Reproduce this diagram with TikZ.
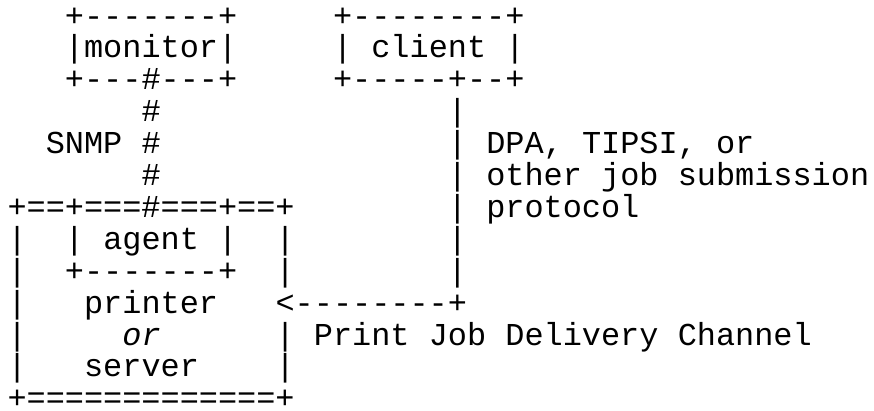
\documentclass[tikz,border=0pt]{standalone}
\usepackage{fontspec}
\setmainfont{Liberation Mono}
\newfontfamily\asciifont{Liberation Mono}
\begin{document}
\begin{tikzpicture}[
  txt/.style={anchor=base west, inner sep=0pt, outer sep=0pt,
    font=\asciifont\fontsize{31.9}{32}\selectfont, text=black},
  it/.style={txt, font=\asciifont\itshape\fontsize{31.9}{32}\selectfont}
]
\useasboundingbox[fill=white] (0pt,0pt) rectangle (874pt,-410pt);
\begin{scope}[shift={(7.5pt,-26pt)}, x={(19.15pt,0pt)}, y={(0pt,-31.9pt)}]
% row 1
\node[txt] (monTop) at (3,0) {+-------+};
\node[txt] (cliTop) at (17,0) {+--------+};
% row 2
\node[txt] (monMid) at (3,1) {|monitor|};
\node[txt] (cliL) at (17,1) {|};
\node[txt] (cliW) at (19,1) {client};
\node[txt] (cliR) at (26,1) {|};
% row 3
\node[txt] (monBot) at (3,2) {+---\#---+};
\node[txt] (cliBot) at (17,2) {+-----+--+};
% row 4
\node[txt] (snmpA) at (7,3) {\#};
\node[txt] (lineA) at (23,3) {|};
% row 5
\node[txt] (snmpW) at (2,4) {SNMP};
\node[txt] (snmpB) at (7,4) {\#};
\node[txt] (lineB) at (23,4) {|};
\node[txt] (lblA1) at (25,4) {DPA,};
\node[txt] (lblA2) at (30,4) {TIPSI,};
\node[txt] (lblA3) at (37,4) {or};
% row 6
\node[txt] (snmpC) at (7,5) {\#};
\node[txt] (lineC) at (23,5) {|};
\node[txt] (lblB1) at (25,5) {other};
\node[txt] (lblB2) at (31,5) {job};
\node[txt] (lblB3) at (35,5) {submission};
% row 7
\node[txt] (prtTop) at (0,6) {+==+===\#===+==+};
\node[txt] (lineD) at (23,6) {|};
\node[txt] (lblC) at (25,6) {protocol};
% row 8
\node[txt] (prtL1) at (0,7) {|};
\node[txt] (agentL) at (3,7) {|};
\node[txt] (agent) at (5,7) {agent};
\node[txt] (agentR) at (11,7) {|};
\node[txt] (prtR1) at (14,7) {|};
\node[txt] (lineE) at (23,7) {|};
% row 9
\node[txt] (prtL2) at (0,8) {|};
\node[txt] (agentBot) at (3,8) {+-------+};
\node[txt] (prtR2) at (14,8) {|};
\node[txt] (lineF) at (23,8) {|};
% row 10
\node[txt] (prtL3) at (0,9) {|};
\node[txt] (printer) at (4,9) {printer};
\node[txt] (arrow) at (14,9) {<--------+};
% row 11
\node[txt] (prtL4) at (0,10) {|};
\node[it] (orw) at (6,10) {or};
\node[txt] (prtR4) at (14,10) {|};
\node[txt] (ch1) at (16,10) {Print};
\node[txt] (ch2) at (22,10) {Job};
\node[txt] (ch3) at (26,10) {Delivery};
\node[txt] (ch4) at (35,10) {Channel};
% row 12
\node[txt] (prtL5) at (0,11) {|};
\node[txt] (server) at (4,11) {server};
\node[txt] (prtR5) at (14,11) {|};
% row 13
\node[txt] (prtBot) at (0,12) {+=============+};
\end{scope}
\end{tikzpicture}
\end{document}
